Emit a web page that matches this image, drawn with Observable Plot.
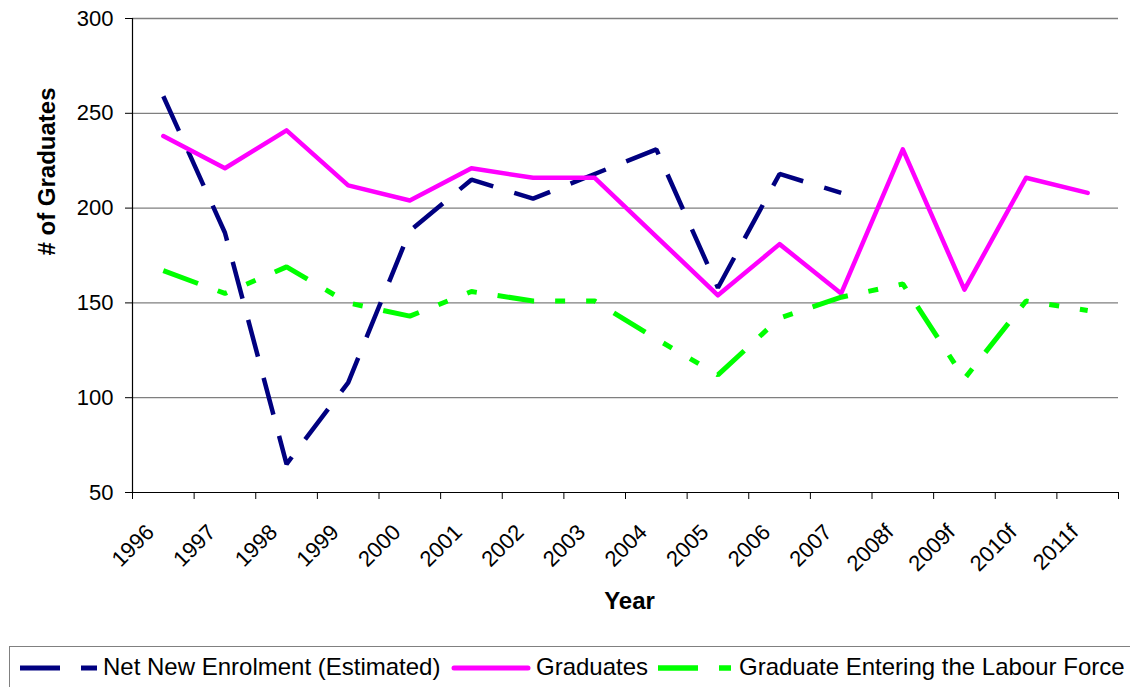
<!DOCTYPE html>
<html>
<head>
<meta charset="utf-8">
<script src="https://cdn.jsdelivr.net/npm/d3@7"></script>
<script src="https://cdn.jsdelivr.net/npm/@observablehq/plot@0.6"></script>
<style>
  html, body { margin: 0; padding: 0; background: #fff; overflow: hidden; width: 1130px; height: 687px; }
  #wrap { position: relative; width: 1130px; height: 687px; font-family: "Liberation Sans", Arial, sans-serif; }
  #legend { position: absolute; left: 9px; top: 646px; width: 1200px; height: 60px; border: 1px solid #808080; border-right: none; box-sizing: border-box; }
  .lg { position: absolute; font-size: 24px; color: #000; top: 6px; line-height: 28px; white-space: nowrap; }
  .sw { position: absolute; top: 17px; }
</style>
</head>
<body>
<div id="wrap"></div>
<script>
// ---- data ----
const years = ["1996","1997","1998","1999","2000","2001","2002","2003","2004","2005","2006","2007","2008f","2009f","2010f","2011f"];
const netNewEnrolment = [259,187,65,108,188,215,205,218,231,158,218,208,null,null,null,null];
const graduates = [238,221,241,212,204,221,216,216,185,154,181,155,231,157,216,208];
const labourForce = [167,155,169,150,143,156,151,151,131,112,142,153,160,110,151,146];
const yTicks = [50,100,150,200,250,300];
const seriesNames = ["Net New Enrolment (Estimated)", "Graduates", "Graduate Entering the Labour Force"];
const xTitle = "Year";
const yTitle = "# of Graduates";

const rows = years.map((year, i) => ({i, year, net: netNewEnrolment[i], grad: graduates[i], lab: labourForce[i]}));
const idx = d3.range(years.length);
const bounds = d3.range(years.length + 1).map(k => k - 0.5);

const chart = Plot.plot({
  width: 1130,
  height: 646,
  marginLeft: 132,
  marginRight: 12,
  marginTop: 18,
  marginBottom: 154,
  style: {fontFamily: "Liberation Sans, Arial, sans-serif", color: "#000", background: "#fff"},
  x: {type: "linear", domain: [-0.5, years.length - 0.5], axis: null, label: null},
  y: {domain: [50, 300], axis: null, label: null},
  marks: [
    Plot.gridY(yTicks.filter(t => t > 50), {stroke: "#7f7f7f", strokeOpacity: 1, strokeWidth: 1.3}),
    Plot.ruleY([50], {stroke: "#000", strokeWidth: 1.2}),
    Plot.ruleX([-0.5], {stroke: "#000", strokeWidth: 1.2}),
    Plot.axisY({ticks: yTicks, tickSize: 7, tickPadding: 12, fontSize: 22, label: null, stroke: "#000"}),
    Plot.axisX({ticks: bounds, tickSize: 7, tickFormat: () => "", label: null, stroke: "#000"}),
    Plot.axisX({ticks: idx, tickSize: 0, tickFormat: i => years[i], tickRotate: -45, textAnchor: "end", lineAnchor: "middle", tickPadding: 36, dx: -13, fontSize: 22, label: null}),
    Plot.line(rows, {x: "i", y: "net", stroke: "#000080", strokeWidth: 4.5, strokeDasharray: "38,22", strokeLinecap: "butt", strokeLinejoin: "miter"}),
    Plot.line(rows, {x: "i", y: "grad", stroke: "#ff00ff", strokeWidth: 4.5, strokeLinecap: "round", strokeLinejoin: "round"}),
    Plot.line(rows, {x: "i", y: "lab", stroke: "#00ff00", strokeWidth: 5, strokeDasharray: "37,21,10,21,10,21", strokeLinecap: "butt", strokeLinejoin: "miter"}),
    Plot.text([xTitle], {frameAnchor: "bottom", dx: 4, dy: 109, fontSize: 24, fontWeight: "bold", lineAnchor: "middle"}),
    Plot.text([yTitle], {frameAnchor: "left", dx: -85, rotate: -90, fontSize: 24, fontWeight: "bold", lineAnchor: "middle"})
  ]
});

const wrap = document.getElementById("wrap");
chart.style.position = "absolute";
chart.style.left = "0px";
chart.style.top = "0px";
wrap.appendChild(chart);

// legend below the chart
const legend = document.createElement("div");
legend.id = "legend";
const items = [
  {x: 10, w: 77, color: "#000080", dash: "40,21", text: seriesNames[0], tx: 93, sw: 5},
  {x: 441, w: 80, color: "#ff00ff", dash: null, text: seriesNames[1], tx: 526, sw: 5},
  {x: 648, w: 73, color: "#00ff00", dash: "40,21,12,21", text: seriesNames[2], tx: 729, sw: 5.5}
];
items.forEach(it => {
  const s = document.createElementNS("http://www.w3.org/2000/svg", "svg");
  s.setAttribute("class", "sw");
  s.setAttribute("width", it.w);
  s.setAttribute("height", 8);
  s.style.left = it.x + "px";
  const l = document.createElementNS("http://www.w3.org/2000/svg", "line");
  l.setAttribute("x1", it.dash ? 0 : 3);
  l.setAttribute("x2", it.dash ? it.w : it.w - 3);
  l.setAttribute("y1", 4);
  l.setAttribute("y2", 4);
  l.setAttribute("stroke", it.color);
  l.setAttribute("stroke-width", it.sw);
  if (it.dash) l.setAttribute("stroke-dasharray", it.dash);
  else l.setAttribute("stroke-linecap", "round");
  s.appendChild(l);
  legend.appendChild(s);
  const t = document.createElement("span");
  t.className = "lg";
  t.style.left = it.tx + "px";
  t.textContent = it.text;
  legend.appendChild(t);
});
wrap.appendChild(legend);
</script>
</body>
</html>
